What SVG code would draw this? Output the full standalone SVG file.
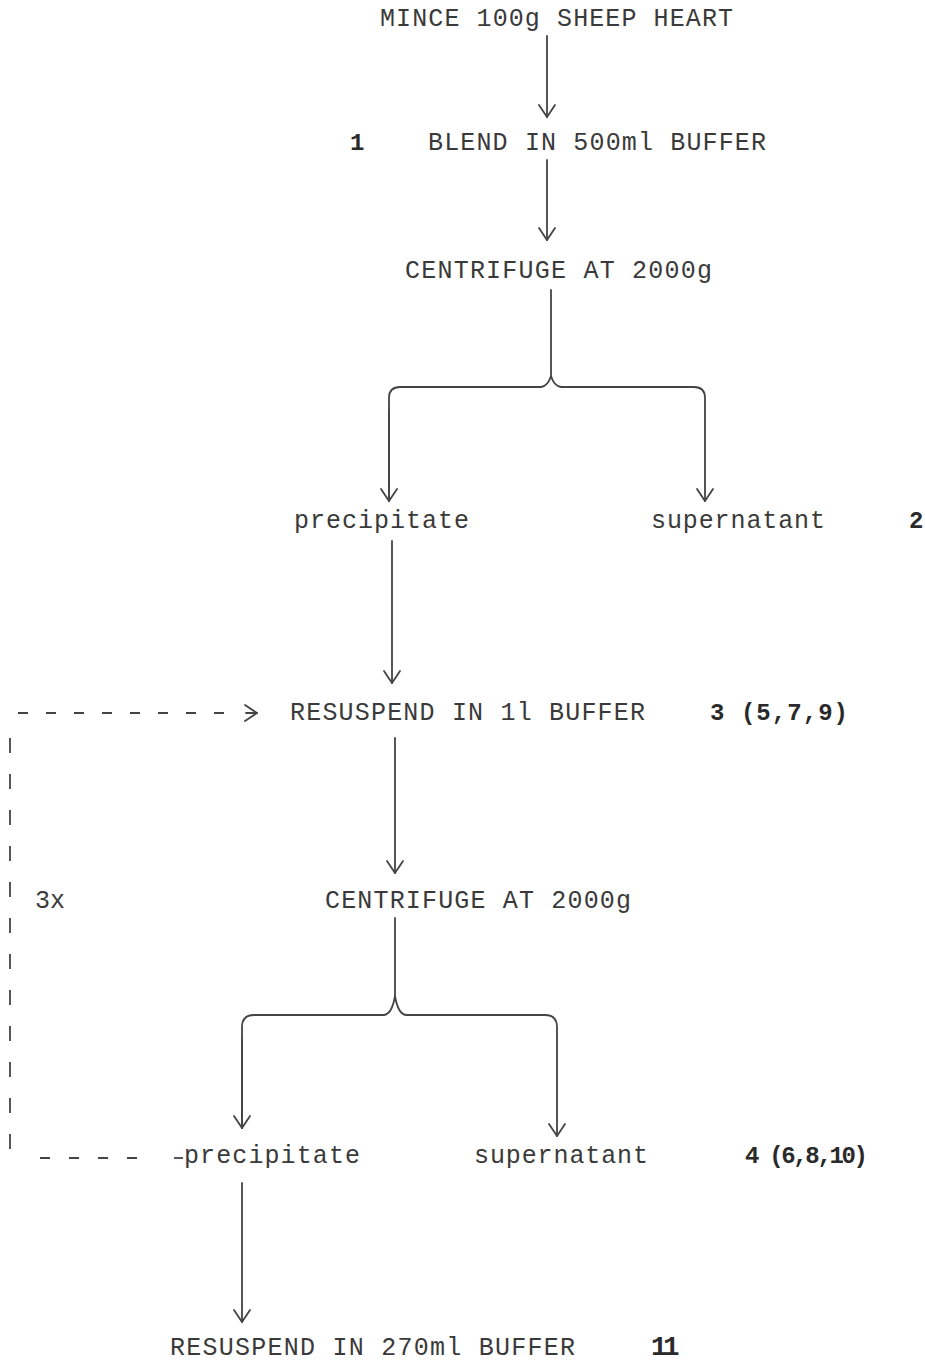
<svg xmlns="http://www.w3.org/2000/svg" width="925" height="1362" viewBox="0 0 925 1362">
<style>
.t{font-family:"Liberation Mono","Courier New",monospace;font-size:25px;fill:#3a3a3a}
.b{font-family:"Liberation Mono","Courier New",monospace;font-size:24px;font-weight:bold;fill:#2a2a2a}
.c{fill:none;stroke:#444;stroke-width:1.8;stroke-linecap:round;stroke-linejoin:round}
.d{fill:none;stroke:#444;stroke-width:1.8}
</style>
<defs>
<marker id="ah" markerUnits="userSpaceOnUse" viewBox="-15 -15 30 30" markerWidth="30" markerHeight="30" refX="0" refY="0" orient="auto" overflow="visible">
<path d="M -12 -8 L 0 0 L -12 8" fill="none" stroke="#444" stroke-width="1.8" stroke-linecap="round" stroke-linejoin="round"/>
</marker>
</defs>
<rect width="925" height="1362" fill="#fff"/>
<g id="n-mince"><text class="t" x="380" y="26" textLength="353" lengthAdjust="spacing">MINCE 100g SHEEP HEART</text></g>
<g id="n-blend"><text class="b" x="350" y="150">1</text><text class="t" x="428" y="150" textLength="338" lengthAdjust="spacing">BLEND IN 500ml BUFFER</text></g>
<g id="n-centrifuge1"><text class="t" x="405" y="278" textLength="307" lengthAdjust="spacing">CENTRIFUGE AT 2000g</text></g>
<g id="n-precip1"><text class="t" x="294" y="528" textLength="175" lengthAdjust="spacing">precipitate</text></g>
<g id="n-super1"><text class="t" x="651" y="528" textLength="174" lengthAdjust="spacing">supernatant</text><text class="b" x="909" y="528">2</text></g>
<g id="n-resuspend1"><text class="t" x="290" y="720" textLength="355" lengthAdjust="spacing">RESUSPEND IN 1l BUFFER</text><text class="b" x="710" y="720" textLength="138" lengthAdjust="spacing">3 (5,7,9)</text></g>
<g id="n-centrifuge2"><text class="t" x="325" y="908" textLength="306" lengthAdjust="spacing">CENTRIFUGE AT 2000g</text></g>
<g id="n-loop"><text class="t" x="35" y="908" textLength="30" lengthAdjust="spacing">3x</text></g>
<g id="n-precip2"><text class="t" x="184" y="1163" textLength="176" lengthAdjust="spacing">precipitate</text></g>
<g id="n-super2"><text class="t" x="474" y="1163" textLength="174" lengthAdjust="spacing">supernatant</text><text class="b" x="745" y="1163" textLength="123" lengthAdjust="spacing">4 (6,8,10)</text></g>
<g id="n-resuspend2"><text class="t" x="170" y="1355" textLength="405" lengthAdjust="spacing">RESUSPEND IN 270ml BUFFER</text><text class="b" x="651" y="1355" style="font-size:27px;letter-spacing:-4px">11</text></g>
<g id="connectors">
<path class="c" d="M 547 36 V 117" marker-end="url(#ah)"/>
<path class="c" d="M 547 160 V 240" marker-end="url(#ah)"/>
<path class="c" d="M 551 290 V 378"/>
<path class="c" d="M 389 501 V 398 Q 389 387 400 387 H 541 Q 548 386 551 376 Q 554 386 561 387 H 694 Q 705 387 705 398 V 501" marker-end="url(#ah)"/>
<path class="c" d="M 389 410 V 501" marker-end="url(#ah)"/>
<path class="c" d="M 392 541 V 683" marker-end="url(#ah)"/>
<path class="c" d="M 395 738 V 873" marker-end="url(#ah)"/>
<path class="c" d="M 395 918 V 996"/>
<path class="c" d="M 242 1128 V 1027 Q 242 1015 254 1015 H 384 Q 392 1014 395 996 Q 398 1014 406 1015 H 545 Q 557 1015 557 1027 V 1136" marker-end="url(#ah)"/>
<path class="c" d="M 242 1040 V 1128" marker-end="url(#ah)"/>
<path class="c" d="M 242 1183 V 1322" marker-end="url(#ah)"/>
<path class="d" d="M 18 713 H 236" stroke-dasharray="10 18"/>
<path class="c" d="M 246 713 H 257" marker-end="url(#ah)"/>
<path class="d" d="M 10 738 V 1152" stroke-dasharray="15 21"/>
<path class="d" d="M 40 1158 H 140" stroke-dasharray="10 19"/>
<path class="d" d="M 174 1158 H 183"/>
</g>
</svg>
